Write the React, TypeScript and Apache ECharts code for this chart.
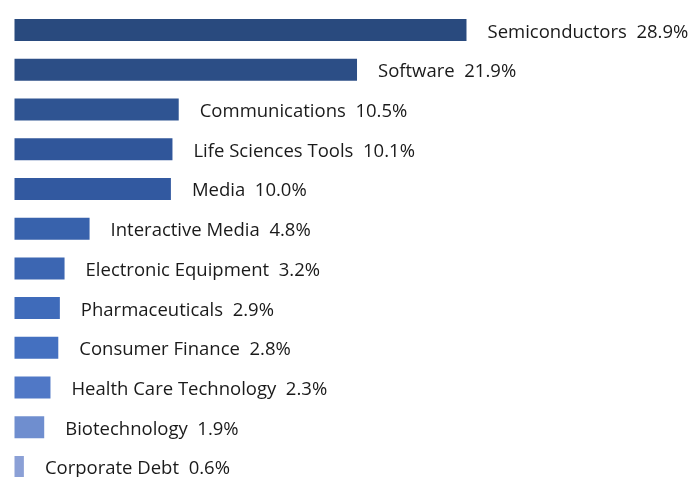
import React, { useEffect, useRef } from "react";
import * as echarts from "echarts";

const categories = [
  "Semiconductors",
  "Software",
  "Communications",
  "Life Sciences Tools",
  "Media",
  "Interactive Media",
  "Electronic Equipment",
  "Pharmaceuticals",
  "Consumer Finance",
  "Health Care Technology",
  "Biotechnology",
  "Corporate Debt",
];
const values = [28.9, 21.9, 10.5, 10.1, 10.0, 4.8, 3.2, 2.9, 2.8, 2.3, 1.9, 0.6];
const barColors = [
  "#294A7E",
  "#2C4E86",
  "#2F5492",
  "#30569A",
  "#3259A0",
  "#3862AC",
  "#3C66B2",
  "#3F6BBA",
  "#4470C0",
  "#5078C6",
  "#6F8ECF",
  "#8BA0D6",
];

export default function App() {
  const ref = useRef<HTMLDivElement>(null);
  useEffect(() => {
    if (!ref.current) return;
    const chart = echarts.init(ref.current, null, { renderer: "svg" });
    const pxPerUnit = 15.64;
    const xMax = 40;
    chart.setOption({
      animation: false,
      grid: {
        left: 14.5,
        top: 10.2,
        width: xMax * pxPerUnit,
        height: 39.72 * categories.length,
        containLabel: false,
      },
      xAxis: {
        type: "value",
        min: 0,
        max: xMax,
        show: false,
      },
      yAxis: {
        type: "category",
        data: categories,
        inverse: true,
        show: false,
      },
      series: [
        {
          type: "bar",
          barWidth: 22,
          data: values.map((v, i) => ({
            value: v,
            itemStyle: { color: barColors[i] },
          })),
          label: {
            show: true,
            position: "right",
            distance: 21,
            fontFamily: "'Open Sans', sans-serif",
            fontSize: 18.5,
            lineHeight: 18,
            color: "#1a1a1a",
            formatter: (p: any) => `${p.name}  ${Number(p.value).toFixed(1)}%`,
          },
        },
      ],
    });
    return () => chart.dispose();
  }, []);
  return (
    <div
      style={{
        position: "fixed",
        left: 0,
        top: 0,
        width: 692,
        height: 477,
        overflow: "hidden",
      }}
    >
      <div ref={ref} style={{ width: 692, height: 500 }} />
    </div>
  );
}
